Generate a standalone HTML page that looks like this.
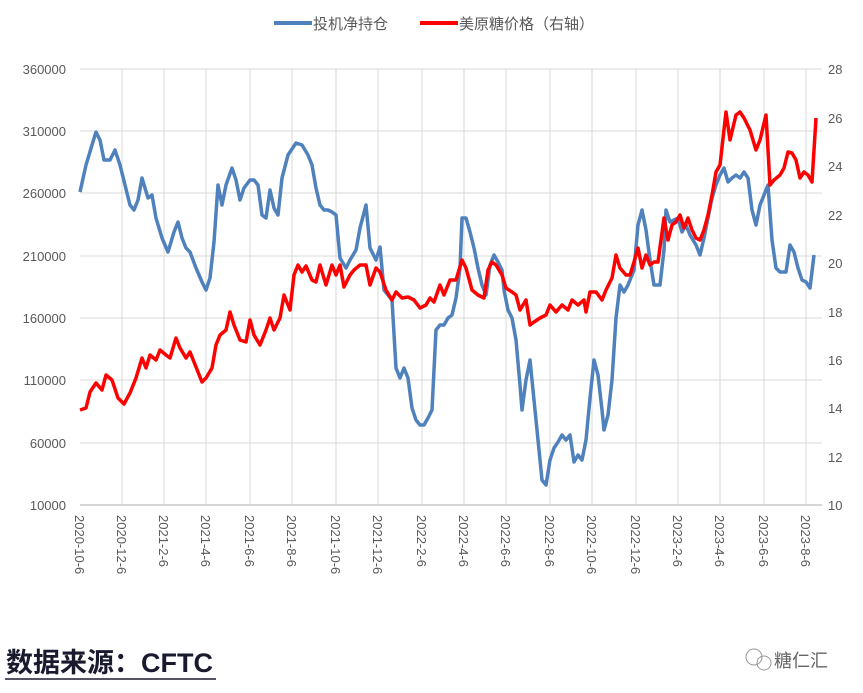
<!DOCTYPE html>
<html><head><meta charset="utf-8"><style>
body{margin:0;background:#fff;width:863px;height:693px;overflow:hidden;font-family:"Liberation Sans","Noto Sans CJK SC",sans-serif}
</style></head><body>
<svg width="863" height="693" xmlns="http://www.w3.org/2000/svg" style="position:absolute;left:0;top:0">
<g stroke="#d9d9d9" stroke-width="1">
<line x1="80" y1="69" x2="822" y2="69"/><line x1="80" y1="131" x2="822" y2="131"/><line x1="80" y1="193" x2="822" y2="193"/><line x1="80" y1="256" x2="822" y2="256"/><line x1="80" y1="318" x2="822" y2="318"/><line x1="80" y1="380" x2="822" y2="380"/><line x1="80" y1="443" x2="822" y2="443"/>
<line x1="122" y1="69" x2="122" y2="505"/><line x1="164" y1="69" x2="164" y2="505"/><line x1="206" y1="69" x2="206" y2="505"/><line x1="250" y1="69" x2="250" y2="505"/><line x1="292" y1="69" x2="292" y2="505"/><line x1="336" y1="69" x2="336" y2="505"/><line x1="378" y1="69" x2="378" y2="505"/><line x1="422" y1="69" x2="422" y2="505"/><line x1="464" y1="69" x2="464" y2="505"/><line x1="506" y1="69" x2="506" y2="505"/><line x1="550" y1="69" x2="550" y2="505"/><line x1="592" y1="69" x2="592" y2="505"/><line x1="636" y1="69" x2="636" y2="505"/><line x1="678" y1="69" x2="678" y2="505"/><line x1="720" y1="69" x2="720" y2="505"/><line x1="764" y1="69" x2="764" y2="505"/><line x1="806" y1="69" x2="806" y2="505"/>
</g>
<line x1="80" y1="505" x2="822" y2="505" stroke="#c8c8c8" stroke-width="1.5"/>
<g font-size="13" fill="#595959" text-anchor="end">
<text x="66" y="74">360000</text><text x="66" y="136">310000</text><text x="66" y="198">260000</text><text x="66" y="261">210000</text><text x="66" y="323">160000</text><text x="66" y="385">110000</text><text x="66" y="448">60000</text><text x="66" y="510">10000</text>
</g>
<g font-size="13" fill="#595959">
<text x="828" y="74">28</text><text x="828" y="123">26</text><text x="828" y="171">24</text><text x="828" y="220">22</text><text x="828" y="268">20</text><text x="828" y="317">18</text><text x="828" y="365">16</text><text x="828" y="413">14</text><text x="828" y="462">12</text><text x="828" y="510">10</text>
</g>
<g font-size="13" fill="#595959">
<text transform="translate(75,515) rotate(90)">2020-10-6</text><text transform="translate(117,515) rotate(90)">2020-12-6</text><text transform="translate(159,515) rotate(90)">2021-2-6</text><text transform="translate(201,515) rotate(90)">2021-4-6</text><text transform="translate(245,515) rotate(90)">2021-6-6</text><text transform="translate(287,515) rotate(90)">2021-8-6</text><text transform="translate(331,515) rotate(90)">2021-10-6</text><text transform="translate(373,515) rotate(90)">2021-12-6</text><text transform="translate(417,515) rotate(90)">2022-2-6</text><text transform="translate(459,515) rotate(90)">2022-4-6</text><text transform="translate(501,515) rotate(90)">2022-6-6</text><text transform="translate(545,515) rotate(90)">2022-8-6</text><text transform="translate(587,515) rotate(90)">2022-10-6</text><text transform="translate(631,515) rotate(90)">2022-12-6</text><text transform="translate(673,515) rotate(90)">2023-2-6</text><text transform="translate(715,515) rotate(90)">2023-4-6</text><text transform="translate(759,515) rotate(90)">2023-6-6</text><text transform="translate(801,515) rotate(90)">2023-8-6</text>
</g>
<polyline fill="none" stroke="#4f81bd" stroke-width="3.5" stroke-linejoin="round" points="80,192 86,165 92,145 96,132 100,140 104,160 110,160 115,150 120,165 125,185 130,205 134,210 138,200 142,178 148,198 152,195 156,218 162,238 168,252 174,232 178,222 182,238 186,248 190,252 196,268 202,282 206,290 210,278 214,242 218,185 222,205 226,185 232,168 236,180 240,200 244,188 250,180 254,180 258,185 262,215 266,218 270,190 274,208 278,215 282,178 288,155 296,143 302,145 308,155 312,165 316,188 320,205 324,210 328,210 332,212 336,215 340,258 346,268 350,260 356,250 360,228 366,205 370,248 376,260 380,247 384,290 388,295 392,300 396,368 400,378 404,368 408,378 412,408 416,420 420,425 424,425 428,418 432,410 436,330 440,325 444,325 448,318 452,315 456,298 460,268 462,218 466,218 470,232 474,248 478,268 482,285 486,295 490,265 494,255 498,262 502,270 504,290 508,310 512,318 516,340 520,385 522,410 526,380 530,360 534,400 538,440 542,480 546,485 550,460 554,448 558,442 562,435 566,440 570,435 574,462 578,455 582,460 586,440 590,398 594,360 598,375 602,410 604,430 608,415 612,380 616,318 620,285 624,292 628,285 634,270 638,225 642,210 646,230 650,260 654,285 660,285 664,250 666,210 670,222 674,220 678,218 682,232 686,225 690,235 696,245 700,255 704,238 708,218 712,198 716,185 720,175 724,168 728,182 732,178 736,175 740,178 744,172 748,178 752,210 756,225 760,205 764,195 768,185 772,240 776,268 780,272 786,272 790,245 794,252 798,268 802,280 806,282 810,288 814,255"/>
<polyline fill="none" stroke="#ff0000" stroke-width="3.5" stroke-linejoin="round" points="80,410 86,408 90,392 96,383 102,390 106,375 112,380 118,398 124,404 130,393 136,378 142,358 146,368 150,355 156,360 160,350 166,355 170,358 176,338 180,348 186,358 190,352 196,367 202,382 206,378 212,368 216,345 220,335 226,330 230,312 234,325 240,340 246,342 250,320 254,335 260,345 266,330 270,318 274,330 280,318 284,295 290,310 294,275 298,265 302,272 306,266 312,280 316,282 320,265 326,285 332,265 336,275 340,265 344,287 350,275 354,270 360,265 366,265 370,285 376,268 380,272 386,290 392,300 396,292 402,298 408,297 414,300 420,308 426,305 430,298 434,302 440,285 444,295 450,280 456,280 462,260 466,268 472,290 478,295 484,298 488,270 492,262 496,265 502,275 506,288 512,292 516,295 520,310 526,300 530,325 534,322 540,318 546,315 550,305 556,312 562,305 568,310 572,300 578,305 584,300 586,312 590,292 596,292 602,300 606,290 612,278 616,255 620,268 626,275 630,275 634,262 638,248 642,268 646,255 650,265 654,262 658,262 664,218 668,240 672,225 676,222 680,215 684,228 688,218 692,230 696,238 700,240 704,230 708,215 712,195 716,172 720,165 726,112 730,140 736,115 740,112 744,118 750,130 756,150 760,140 766,115 770,185 774,180 780,175 784,168 788,152 792,153 796,160 800,178 804,172 808,175 812,182 816,118"/>
<line x1="274" y1="23" x2="312" y2="23" stroke="#4f81bd" stroke-width="4"/>
<text x="313" y="29" font-size="15" fill="#595959">投机净持仓</text>
<line x1="420" y1="23" x2="458" y2="23" stroke="#ff0000" stroke-width="4"/>
<text x="459" y="29" font-size="15" fill="#595959">美原糖价格（右轴）</text>
<text x="6" y="672" font-size="27" font-weight="bold" fill="#1a1a2e">数据来源：CFTC</text>
<line x1="5" y1="679" x2="216" y2="679" stroke="#1a1a2e" stroke-width="1.5"/>
<circle cx="754" cy="657" r="8" fill="none" stroke="#999" stroke-width="1"/>
<circle cx="764" cy="663" r="7" fill="none" stroke="#999" stroke-width="1"/>
<text x="774" y="667" font-size="18" fill="#666">糖仁汇</text>
</svg>
</body></html>
